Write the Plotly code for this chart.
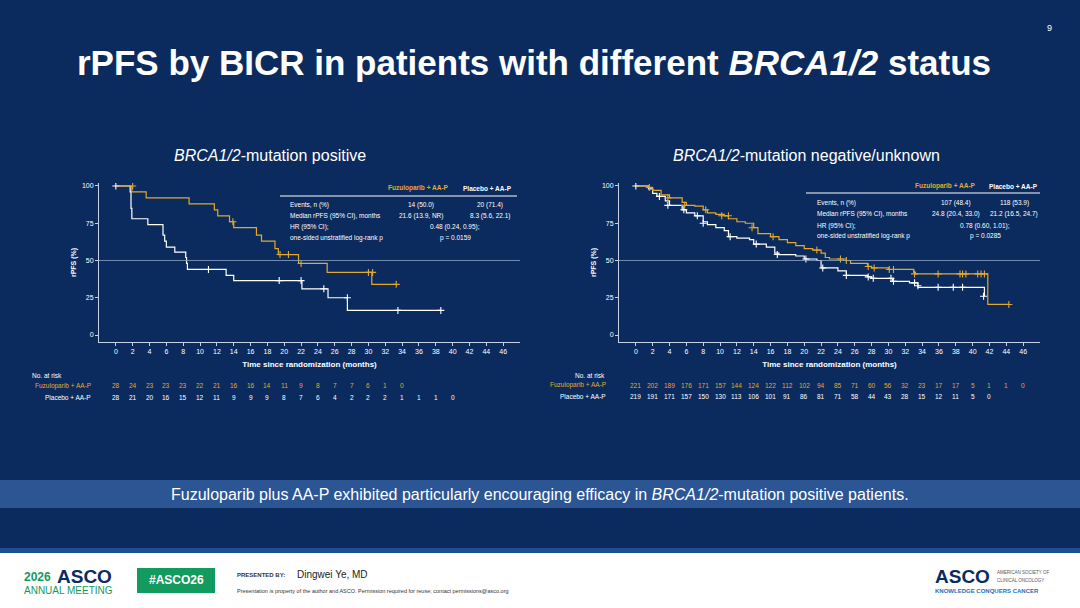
import plotly.graph_objects as go

# ---------------- data ----------------
ticks = list(range(0, 48, 2))

# Left: BRCA1/2-mutation positive
pos_fuz_t = [0, 1.9, 3.6, 8.7, 11.7, 12.1, 13.5, 14.0, 16.7, 17.3, 18.9, 19.3, 21.7, 25.1, 30.4, 33.3]
pos_fuz_s = [100, 96, 92, 88, 84, 80, 76, 72, 67, 63, 58, 54, 48, 42, 34, 34]
pos_fuz_cens_t = [2.0, 13.9, 19.5, 20.5, 22.0, 30.0, 30.5, 33.3]
pos_fuz_cens_s = [100, 76, 54, 54, 48, 42, 42, 34]
pos_pla_t = [0, 1.7, 1.8, 1.9, 3.8, 5.6, 5.8, 6.0, 7.0, 8.3, 8.4, 8.5, 13.1, 14.0, 22.1, 25.2, 27.5, 38.6]
pos_pla_s = [100, 96, 85, 78, 74, 67, 63, 59, 55.6, 52, 48, 44, 40, 36.5, 31, 25, 16.5, 16.5]
pos_pla_cens_t = [0, 11.0, 19.4, 22.0, 24.7, 27.5, 33.5, 38.6]
pos_pla_cens_s = [100, 44, 36.5, 36.5, 31, 25, 16.5, 16.5]
pos_risk_fuz = [28, 24, 23, 23, 23, 22, 21, 16, 16, 14, 11, 9, 8, 7, 7, 6, 1, 0]
pos_risk_pla = [28, 21, 20, 16, 15, 12, 11, 9, 9, 9, 8, 7, 6, 4, 2, 2, 2, 1, 1, 1, 0]

# Right: BRCA1/2-mutation negative/unknown
neg_fuz_t = [0, 1.5, 2, 3, 4, 5.5, 6, 7, 8, 8.5, 9.5, 10.5, 11, 12, 13, 14, 14.5, 16, 17, 18, 19, 20, 21, 22, 22.5, 23, 25, 25.5, 27.5, 28, 30, 33, 33.2, 41.8, 44.3]
neg_fuz_s = [100, 99, 97, 94, 92, 89, 87, 86.5, 84, 82, 81, 80, 78, 76, 75, 72, 68, 66, 64, 62, 60, 58, 57, 55, 52, 51, 50, 48, 46, 45, 44, 42, 41, 20.5, 20.5]
neg_fuz_cens_t = [1.6, 3.8, 5.8, 8.3, 10.2, 11.0, 13.8, 16.3, 21.5, 24.3, 25.0, 27.6, 28.3, 30.1, 30.6, 33.1, 35.9, 38.5, 38.8, 39.2, 40.6, 41.0, 41.4, 44.3]
neg_fuz_cens_s = [99, 92, 87, 84, 80, 80, 72, 66, 57, 51, 50, 46, 45, 44, 44, 41, 41, 41, 41, 41, 41, 41, 41, 20.5]
neg_pla_t = [0, 1.5, 2, 2.5, 3.5, 4, 5.5, 6, 7, 8, 8.5, 9.5, 10.5, 11, 12, 13.5, 14, 15.5, 16.5, 17, 19, 20, 21.5, 22, 24, 25, 27.5, 28, 30, 30.5, 32.5, 33.5, 41.3, 41.4]
neg_pla_s = [100, 98, 95, 93, 90, 87, 84, 82, 80, 76, 74, 72, 70, 66, 65, 64, 61, 59, 55, 54, 53, 51, 50, 45, 43, 40, 39, 38, 38, 36, 35, 32, 32, 26]
neg_pla_cens_t = [0, 2.8, 3.8, 5.7, 7.3, 8.0, 11.2, 14.3, 16.8, 20.2, 22.2, 25.0, 27.6, 28.2, 30.3, 30.6, 33.1, 33.5, 35.9, 37.7, 38.8, 41.3]
neg_pla_cens_s = [100, 93, 87, 84, 80, 75, 66, 61, 54, 51, 45, 40, 39, 38, 38, 36, 35, 33, 32, 32, 32, 26]
neg_risk_fuz = [221, 202, 189, 176, 171, 157, 144, 124, 122, 112, 102, 94, 85, 71, 60, 56, 32, 23, 17, 17, 5, 1, 1, 0]
neg_risk_pla = [219, 191, 171, 157, 150, 130, 113, 106, 101, 91, 86, 81, 71, 58, 44, 43, 28, 15, 12, 11, 5, 0]

# ---------------- styles ----------------
BG = "#0b2b5e"
GOLD = "#e4a82b"
WHITE = "#ffffff"
W, H = 1080, 608
def px(x): return x / W
def py(y): return 1 - y / H

fig = go.Figure()

def add_km(t, s, ct, cs, color, xa, ya):
    fig.add_trace(go.Scatter(x=t, y=s, mode="lines", line=dict(color=color, width=1.2, shape="hv"),
                             xaxis=xa, yaxis=ya, showlegend=False, hoverinfo="skip"))
    fig.add_trace(go.Scatter(x=ct, y=cs, mode="markers", marker=dict(symbol="cross-thin-open", size=5, color=color,
                             line=dict(color=color, width=1.1)),
                             xaxis=xa, yaxis=ya, showlegend=False, hoverinfo="skip"))

add_km(pos_pla_t, pos_pla_s, pos_pla_cens_t, pos_pla_cens_s, WHITE, "x", "y")
add_km(pos_fuz_t, pos_fuz_s, pos_fuz_cens_t, pos_fuz_cens_s, GOLD, "x", "y")
add_km(neg_pla_t, neg_pla_s, neg_pla_cens_t, neg_pla_cens_s, WHITE, "x2", "y2")
add_km(neg_fuz_t, neg_fuz_s, neg_fuz_cens_t, neg_fuz_cens_s, GOLD, "x2", "y2")

ydom = [py(342), py(183)]
axis_common = dict(showgrid=False, zeroline=False, showline=True, linecolor="#c8d2e6", linewidth=1,
                   ticks="outside", tickcolor="#c8d2e6", ticklen=3,
                   tickfont=dict(family="Arial", size=7, color=WHITE))
xa = dict(axis_common, range=[-2, 48], tickvals=ticks,
          title=dict(text="<b>Time since randomization (months)</b>", font=dict(family="Arial", size=8, color=WHITE), standoff=6))
ya = dict(axis_common, range=[-4.7, 102], tickvals=[0, 25, 50, 75, 100],
          title=dict(text="<b>rPFS (%)</b>", font=dict(family="Arial", size=7, color=WHITE), standoff=4))

fig.update_layout(
    width=W, height=H, margin=dict(l=0, r=0, t=0, b=0),
    paper_bgcolor=BG, plot_bgcolor=BG, showlegend=False,
    xaxis=dict(xa, domain=[px(99), px(520)], anchor="y"),
    yaxis=dict(ya, domain=ydom, anchor="x"),
    xaxis2=dict(xa, domain=[px(619), px(1040)], anchor="y2"),
    yaxis2=dict(ya, domain=ydom, anchor="x2"),
)

shapes = []
for xr, yr in (("x", "y"), ("x2", "y2")):
    shapes.append(dict(type="line", xref=xr + " domain", yref=yr, x0=0, x1=1, y0=50, y1=50,
                       line=dict(color="#8fa3c8", width=0.8)))
shapes.append(dict(type="line", xref="paper", yref="paper", x0=px(280), x1=px(517), y0=py(196), y1=py(196), line=dict(color=WHITE, width=1)))
shapes.append(dict(type="line", xref="paper", yref="paper", x0=px(806), x1=px(1040), y0=py(193), y1=py(193), line=dict(color=WHITE, width=1)))
shapes.append(dict(type="rect", xref="paper", yref="paper", x0=0, x1=1, y0=py(508), y1=py(480), fillcolor="#2c5593", line=dict(width=0), layer="below"))
shapes.append(dict(type="rect", xref="paper", yref="paper", x0=0, x1=1, y0=py(553), y1=py(548), fillcolor="#1d4f96", line=dict(width=0)))
shapes.append(dict(type="rect", xref="paper", yref="paper", x0=0, x1=1, y0=0, y1=py(553), fillcolor="#ffffff", line=dict(width=0)))
shapes.append(dict(type="rect", xref="paper", yref="paper", x0=px(137), x1=px(215), y0=py(593), y1=py(568), fillcolor="#139a5e", line=dict(width=0)))
fig.update_layout(shapes=shapes)

ann = []
def T(x, y, text, size=7, color=WHITE, xanchor="left", bold=False, italic=False, family="Arial"):
    if bold: text = "<b>" + text + "</b>"
    if italic: text = "<i>" + text + "</i>"
    ann.append(dict(xref="paper", yref="paper", x=px(x), y=py(y), text=text, showarrow=False,
                    xanchor=xanchor, yanchor="middle", font=dict(family=family, size=size, color=color)))

T(534, 62, "rPFS by BICR in patients with different <i>BRCA1/2</i> status", size=35, xanchor="center", bold=True)
T(1049, 28, "9", size=9, xanchor="center")
T(270, 156, "<i>BRCA1/2</i>-mutation positive", size=16, xanchor="center")
T(806, 156, "<i>BRCA1/2</i>-mutation negative/unknown", size=16, xanchor="center")
T(540, 494, "Fuzuloparib plus AA-P exhibited particularly encouraging efficacy in <i>BRCA1/2</i>-mutation positive patients.", size=16, xanchor="center")

T(418, 188, "Fuzuloparib + AA-P", size=6.5, color=GOLD, xanchor="center", bold=True)
T(487, 188, "Placebo + AA-P", size=6.5, xanchor="center", bold=True)
T(288, 205, "Events, n (%)", size=6.5)
T(421, 205, "14 (50.0)", size=6.5, xanchor="center")
T(490, 205, "20 (71.4)", size=6.5, xanchor="center")
T(288, 216, "Median rPFS (95% CI), months", size=6.5)
T(421, 216, "21.6 (13.9, NR)", size=6.5, xanchor="center")
T(490, 216, "8.3 (5.6, 22.1)", size=6.5, xanchor="center")
T(288, 227, "HR (95% CI);", size=6.5)
T(288, 238, "one-sided unstratified log-rank p", size=6.5)
T(455, 227, "0.48 (0.24, 0.95);", size=6.5, xanchor="center")
T(455, 238, "p = 0.0159", size=6.5, xanchor="center")

T(945, 186, "Fuzuloparib + AA-P", size=6.5, color=GOLD, xanchor="center", bold=True)
T(1013, 186, "Placebo + AA-P", size=6.5, xanchor="center", bold=True)
T(815, 203, "Events, n (%)", size=6.5)
T(956, 203, "107 (48.4)", size=6.5, xanchor="center")
T(1014, 203, "118 (53.9)", size=6.5, xanchor="center")
T(815, 214, "Median rPFS (95% CI), months", size=6.5)
T(956, 214, "24.8 (20.4, 33.0)", size=6.5, xanchor="center")
T(1014, 214, "21.2 (16.5, 24.7)", size=6.5, xanchor="center")
T(815, 226, "HR (95% CI);", size=6.5)
T(815, 236, "one-sided unstratified log-rank p", size=6.5)
T(985, 226, "0.78 (0.60, 1.01);", size=6.5, xanchor="center")
T(985, 236, "p = 0.0285", size=6.5, xanchor="center")

T(30, 375, "No. at risk", size=6.5)
T(93, 386, "Fuzuloparib + AA-P", size=6.5, color=GOLD, xanchor="right")
T(93, 397, "Placebo + AA-P", size=6.5, xanchor="right")
T(607, 375, "No. at risk", size=6.5, xanchor="right")
T(608, 385, "Fuzuloparib + AA-P", size=6.5, color=GOLD, xanchor="right")
T(608, 396, "Placebo + AA-P", size=6.5, xanchor="right")
def risk(vals, xr, y, color):
    for t, v in zip(ticks, vals):
        ann.append(dict(xref=xr, yref="paper", x=t, y=py(y), text=str(v), showarrow=False,
                        xanchor="center", yanchor="middle", font=dict(family="Arial", size=6.5, color=color)))
risk(pos_risk_fuz, "x", 386, GOLD)
risk(pos_risk_pla, "x", 397, WHITE)
risk(neg_risk_fuz, "x2", 385, GOLD)
risk(neg_risk_pla, "x2", 396, WHITE)

T(22, 577, "<b>2026</b>", size=12, color="#139a5e")
T(55, 576, "<b>ASCO</b>", size=19, color="#0b2b5e")
T(22, 590, "ANNUAL MEETING", size=10, color="#139a5e")
T(176, 580, "<b>#ASCO26</b>", size=12, xanchor="center")
T(235, 575, "<b>PRESENTED BY:</b>", size=6, color="#333333")
T(295, 574, "Dingwei Ye, MD", size=10, color="#222222")
T(235, 591, "Presentation is property of the author and ASCO. Permission required for reuse; contact permissions@asco.org", size=5.5, color="#333333")
T(933, 576, "<b>ASCO</b>", size=19, color="#0b2b5e")
T(995, 572, "AMERICAN SOCIETY OF", size=4.5, color="#555555")
T(995, 580, "CLINICAL ONCOLOGY", size=4.5, color="#555555")
T(933, 591, "<b>KNOWLEDGE CONQUERS CANCER</b>", size=6, color="#1d6fb8")

fig.update_layout(annotations=ann)
fig.write_html("out.html", config={"displayModeBar": False},
               post_script="document.body.style.margin='0';document.body.style.overflow='hidden';")
